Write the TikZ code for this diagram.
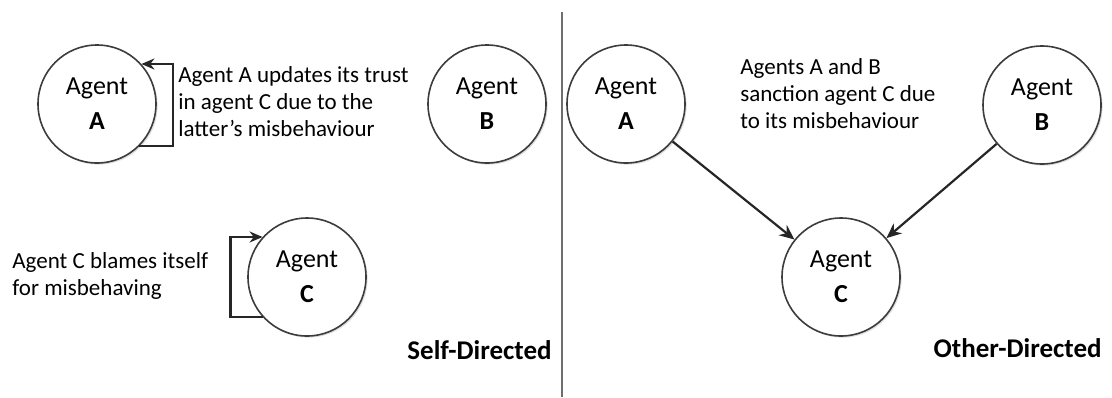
\documentclass[tikz,border=0pt]{standalone}
\usepackage{fontspec}
\setmainfont{Carlito}
\usepackage{tikz}
\usetikzlibrary{arrows.meta, positioning, shadows}
\definecolor{ringgray}{RGB}{60,60,60}
\definecolor{dividergray}{RGB}{110,110,110}

\begin{document}
\begin{tikzpicture}[
    x=0.5pt, y=-0.5pt,
    agent_node/.style={circle, draw=ringgray, line width=0.8pt, fill=white, minimum size=59pt, inner sep=0pt, align=center,
        font=\fontsize{13}{17.5}\selectfont,
        drop shadow={opacity=0.25, shadow xshift=0.8pt, shadow yshift=-0.8pt}},
    note_text/.style={inner sep=0pt, align=left, font=\fontsize{11.5}{13.5}\selectfont},
    side_title/.style={inner sep=0pt, font=\fontsize{13.5}{16}\selectfont\bfseries},
    loop_arrow/.style={-{Stealth[length=6.5pt, width=5.5pt]}, line width=1.1pt, draw=black!85},
    arrow/.style={-{Stealth[length=7.5pt, width=6.5pt]}, line width=1.1pt, draw=black!85}
]
    \useasboundingbox (0,0) rectangle (1112,397);

    % Self-directed side
    \node[agent_node] (selfA) at (97,104) {Agent\\\textbf{A}};
    \node[agent_node] (selfB) at (487,104) {Agent\\\textbf{B}};
    \node[agent_node] (selfC) at (307,277) {Agent\\\textbf{C}};

    % loop arrows back into the agent
    \draw[loop_arrow] (selfA.-45) -- ++(34,0) coordinate (loopA) |- (selfA.42);
    \draw[loop_arrow] (selfC.222) -- ++(-32,0) coordinate (loopC) |- (selfC.138);

    \node[note_text, anchor=west] (noteA) at (178,102) {Agent A updates its trust\\in agent C due to the\\latter’s misbehaviour};
    \node[note_text, anchor=west] (noteC) at (12,276) {Agent C blames itself\\for misbehaving};

    \node[side_title, anchor=east] (selfTitle) at (552,350) {Self-Directed};

    % Divider
    \coordinate (divTop) at (562,12);
    \coordinate (divBot) at (562,397);
    \draw[dividergray, line width=1pt] (divTop) -- (divBot);

    % Other-directed side
    \node[agent_node] (otherA) at (626,104) {Agent\\\textbf{A}};
    \node[agent_node] (otherB) at (1042,105) {Agent\\\textbf{B}};
    \node[agent_node] (otherC) at (841,277) {Agent\\\textbf{C}};

    \draw[arrow] (otherA) -- (otherC);
    \draw[arrow] (otherB) -- (otherC);

    \node[note_text, anchor=west] (noteAB) at (740,94) {Agents A and B\\sanction agent C due\\to its misbehaviour};

    \node[side_title, anchor=east] (otherTitle) at (1102,348) {Other-Directed};

\end{tikzpicture}
\end{document}
